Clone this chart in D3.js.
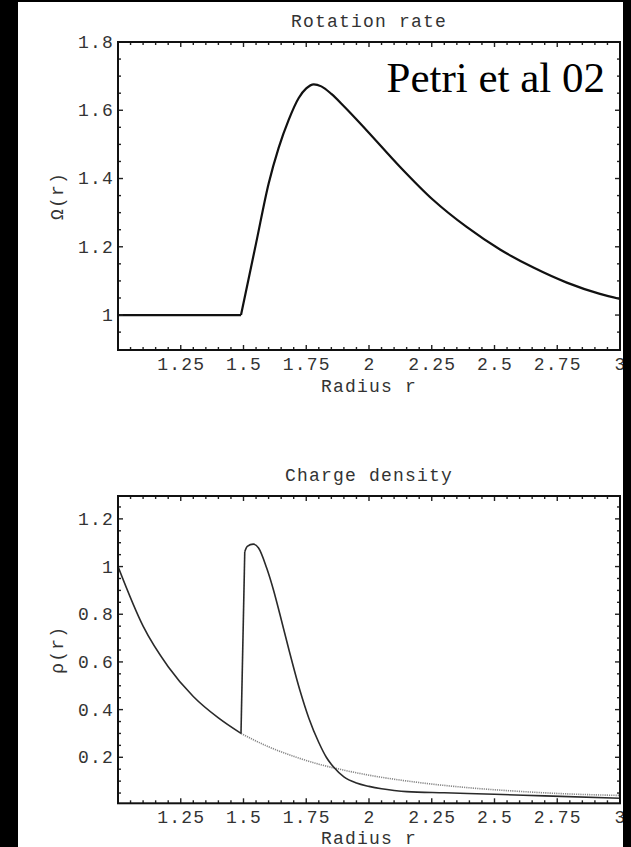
<!DOCTYPE html>
<html>
<head>
<meta charset="utf-8">
<script src="https://cdn.jsdelivr.net/npm/d3@7"></script>
<style>
  html, body { margin: 0; padding: 0; background: #fff; }
  svg { display: block; }
  text { font-family: "Courier New", "Liberation Mono", monospace; fill: #333; letter-spacing: 1.2px; }
</style>
</head>
<body>
<svg id="chart" width="631" height="847"></svg>
<script>
// ---------- Data ----------
// Top panel: rotation rate Omega(r)
const rotRadius = [1.0, 1.49, 1.55, 1.60, 1.64, 1.68, 1.72, 1.75, 1.78, 1.81, 1.85, 1.90, 1.991, 2.124, 2.256, 2.389, 2.522, 2.655, 2.788, 2.92, 3.0];
const rotOmega  = [1.0, 1.0,  1.21, 1.385, 1.49, 1.572, 1.636, 1.664, 1.676, 1.670, 1.648, 1.612, 1.541, 1.434, 1.337, 1.258, 1.192, 1.139, 1.095, 1.062, 1.047];
const rotBreaks = [1];   // index of corner points

// Bottom panel: charge density rho(r), full solution
const rhoRadius = [1.0, 1.1, 1.2, 1.3, 1.4, 1.49, 1.505, 1.515, 1.539, 1.56, 1.592, 1.62, 1.645, 1.68, 1.725, 1.76, 1.8, 1.83, 1.858, 1.9, 1.95, 2.0, 2.05, 2.1, 2.15, 2.3, 2.5, 2.7, 3.0];
const rhoValue  = [1.0, 0.75, 0.58, 0.455, 0.365, 0.30, 1.062, 1.085, 1.094, 1.078, 0.995, 0.90, 0.80, 0.655, 0.48, 0.365, 0.262, 0.20, 0.16, 0.118, 0.092, 0.078, 0.068, 0.061, 0.056, 0.051, 0.045, 0.038, 0.028];
const rhoBreaks = [5, 6];

// Bottom panel: reference (dotted) density
const refRadius = [1.49, 1.6, 1.7, 1.8, 1.9, 2.0, 2.2, 2.4, 2.6, 2.8, 3.0];
const refValue  = [0.30, 0.244, 0.204, 0.171, 0.146, 0.125, 0.094, 0.072, 0.057, 0.046, 0.04];

// Tick labels
const xTickValues = [1.25, 1.5, 1.75, 2, 2.25, 2.5, 2.75, 3];
const xTickLabels = ["1.25", "1.5", "1.75", "2", "2.25", "2.5", "2.75", "3"];
const rotTickValues = [1, 1.2, 1.4, 1.6, 1.8];
const rotTickLabels = ["1", "1.2", "1.4", "1.6", "1.8"];
const rhoTickValues = [0.2, 0.4, 0.6, 0.8, 1, 1.2];
const rhoTickLabels = ["0.2", "0.4", "0.6", "0.8", "1", "1.2"];

// ---------- Drawing ----------
const svg = d3.select("#chart");
const W = 631, H = 847;
const FS = 18;
svg.append("rect").attr("width", W).attr("height", H).attr("fill", "#fff");

function panel(cfg) {
  const g = svg.append("g");
  const x = d3.scaleLinear().domain([1, 3]).range([cfg.left, cfg.right]);
  const y = d3.scaleLinear().domain(cfg.yDomain).range([cfg.bottom, cfg.top]);

  const clipId = "clip" + cfg.id;
  svg.append("clipPath").attr("id", clipId).append("rect")
    .attr("x", cfg.left).attr("y", cfg.top)
    .attr("width", cfg.right - cfg.left).attr("height", cfg.bottom - cfg.top);

  const plot = g.append("g").attr("clip-path", `url(#${clipId})`);

  cfg.series.forEach(s => {
    const pts = s.xs.map((v, i) => [v, s.ys[i]]);
    const cuts = [0, ...s.breaks, pts.length - 1];
    for (let k = 0; k < cuts.length - 1; k++) {
      const seg = pts.slice(cuts[k], cuts[k + 1] + 1);
      const line = d3.line()
        .x(d => x(d[0])).y(d => y(d[1]))
        .curve(seg.length > 2 ? d3.curveMonotoneX : d3.curveLinear);
      plot.append("path").attr("d", line(seg))
        .attr("fill", "none")
        .attr("stroke", s.color)
        .attr("stroke-width", s.width)
        .attr("stroke-linejoin", "round")
        .attr("stroke-dasharray", s.dash || null);
    }
  });

  // ticks (inward on all four sides)
  const minorX = d3.range(1.05, 3.0001, 0.05).filter(v => v < 2.999);
  const minorY = d3.range(Math.ceil(cfg.yDomain[0] / 0.05) * 0.05, cfg.yDomain[1] + 1e-6, 0.05);
  const isMajorX = v => xTickValues.some(t => Math.abs(t - v) < 1e-6);
  const isMajorY = v => cfg.yTicks.some(t => Math.abs(t - v) < 1e-6);
  const tk = g.append("g").attr("stroke", "#222").attr("stroke-width", 1.4);
  minorX.forEach(v => {
    const L = isMajorX(v) ? 5 : 3;
    tk.append("line").attr("x1", x(v)).attr("x2", x(v)).attr("y1", cfg.bottom).attr("y2", cfg.bottom - L);
    tk.append("line").attr("x1", x(v)).attr("x2", x(v)).attr("y1", cfg.top).attr("y2", cfg.top + L);
  });
  minorY.forEach(v => {
    if (y(v) < cfg.top + 1 || y(v) > cfg.bottom - 1) return;
    const L = isMajorY(v) ? 5 : 3;
    tk.append("line").attr("y1", y(v)).attr("y2", y(v)).attr("x1", cfg.left).attr("x2", cfg.left + L);
    tk.append("line").attr("y1", y(v)).attr("y2", y(v)).attr("x1", cfg.right).attr("x2", cfg.right - L);
  });

  // frame
  g.append("rect").attr("x", cfg.left).attr("y", cfg.top)
    .attr("width", cfg.right - cfg.left).attr("height", cfg.bottom - cfg.top)
    .attr("fill", "none").attr("stroke", "#111").attr("stroke-width", 2);

  // tick labels
  xTickValues.forEach((v, i) => {
    g.append("text").attr("x", x(v) + 0.6).attr("y", cfg.bottom + 20)
      .attr("text-anchor", "middle").attr("font-size", FS).text(xTickLabels[i]);
  });
  cfg.yTicks.forEach((v, i) => {
    g.append("text").attr("x", cfg.left - 4).attr("y", y(v)).attr("dy", "0.33em")
      .attr("text-anchor", "end").attr("font-size", FS).text(cfg.yLabels[i]);
  });

  // titles
  const cx = (cfg.left + cfg.right) / 2;
  g.append("text").attr("x", cx).attr("y", cfg.top - 15)
    .attr("text-anchor", "middle").attr("font-size", FS).text(cfg.title);
  g.append("text").attr("x", cx).attr("y", cfg.bottom + cfg.xTitleOffset)
    .attr("text-anchor", "middle").attr("font-size", FS).text("Radius r");
  g.append("text")
    .attr("transform", `translate(63,${(cfg.top + cfg.bottom) / 2}) rotate(-90)`)
    .attr("text-anchor", "middle").attr("font-size", FS).text(cfg.yTitle);
}

panel({
  id: "top", left: 118, right: 620, top: 42, bottom: 350,
  yDomain: [0.8976, 1.8],
  yTicks: rotTickValues, yLabels: rotTickLabels,
  title: "Rotation rate", yTitle: "Ω(r)", xTitleOffset: 42,
  series: [{ xs: rotRadius, ys: rotOmega, breaks: rotBreaks, color: "#111", width: 2.2 }]
});

panel({
  id: "bot", left: 118, right: 620, top: 496, bottom: 803.3,
  yDomain: [0.007, 1.296],
  yTicks: rhoTickValues, yLabels: rhoTickLabels,
  title: "Charge density", yTitle: "ρ(r)", xTitleOffset: 40.5,
  series: [
    { xs: refRadius, ys: refValue, breaks: [], color: "#888", width: 1.6, dash: "1.2,1" },
    { xs: rhoRadius, ys: rhoValue, breaks: rhoBreaks, color: "#2a2a2a", width: 1.6 }
  ]
});

// annotation
svg.append("text").attr("x", 605).attr("y", 92)
  .attr("text-anchor", "end")
  .style("font-family", "'Times New Roman', 'Liberation Serif', serif")
  .style("font-size", "43px").style("fill", "#000").style("letter-spacing", "0px")
  .text("Petri et al 02");

// black borders of the scan
svg.append("rect").attr("x", 0).attr("y", 0).attr("width", 18).attr("height", H).attr("fill", "#000");
svg.append("rect").attr("x", 0).attr("y", 0).attr("width", W).attr("height", 2).attr("fill", "#000");
svg.append("rect").attr("x", 623).attr("y", 0).attr("width", W - 623).attr("height", H).attr("fill", "#000");
</script>
</body>
</html>
